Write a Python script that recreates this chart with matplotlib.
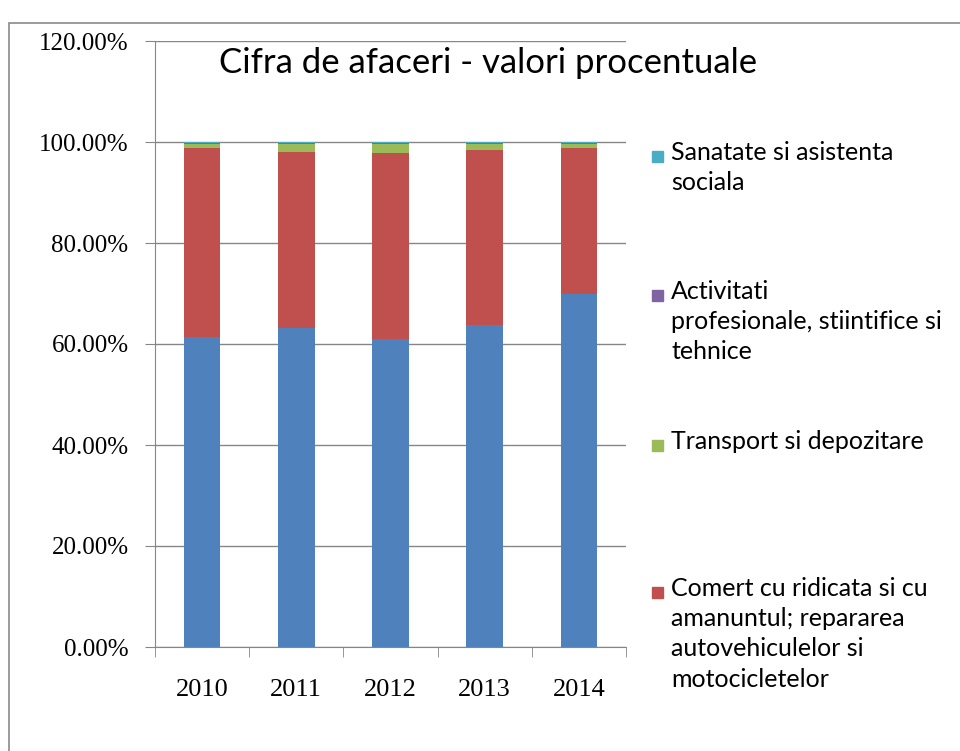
import matplotlib
matplotlib.use("Agg")
import matplotlib.pyplot as plt
import numpy as np
from matplotlib.patches import Rectangle
from matplotlib.ticker import PercentFormatter

years = ["2010", "2011", "2012", "2013", "2014"]

# shares in percent, bottom to top
industrie = [61.4, 63.2, 61.0, 63.7, 70.0]
comert = [37.35, 34.9, 36.8, 34.7, 28.75]
transport = [0.85, 1.5, 1.8, 1.2, 0.85]
activitati = [0.15, 0.15, 0.15, 0.15, 0.15]
sanatate = [0.25, 0.25, 0.25, 0.25, 0.25]

series = [
    (industrie, "#4F81BD"),
    (comert, "#C0504D"),
    (transport, "#9BBB59"),
    (activitati, "#8064A2"),
    (sanatate, "#4BACC6"),
]

legend_items = [
    ("Sanatate si asistenta\nsociala", "#4BACC6"),
    ("Activitati\nprofesionale, stiintifice si\ntehnice", "#8064A2"),
    ("Transport si depozitare", "#9BBB59"),
    ("Comert cu ridicata si cu\namanuntul; repararea\nautovehiculelor si\nmotocicletelor", "#C0504D"),
]

W, H = 960, 751
fig = plt.figure(figsize=(W / 100, H / 100), dpi=100)
fig.patch.set_facecolor("white")

# outer chart border, runs off the right and bottom edges
fig.patches.append(Rectangle((9 / W, -0.1), 1.2, (H - 23) / H + 0.1,
                             transform=fig.transFigure, fill=False,
                             edgecolor="#8a8a8a", lw=1.2))

ax = fig.add_axes([155 / W, (H - 647) / H, (626 - 155) / W, (647 - 41) / H])

x = np.arange(len(years))
bottom = np.zeros(len(years))
for vals, col in series:
    v = np.array(vals) / 100
    ax.bar(x, v, 0.39, bottom=bottom, color=col, zorder=3)
    bottom += v

ax.set_xlim(-0.5, len(years) - 0.5)
ax.set_ylim(0, 1.2)
ax.set_yticks(np.arange(0, 1.21, 0.2))
ax.yaxis.set_major_formatter(PercentFormatter(1.0, decimals=2))
ax.grid(axis="y", color="#868686", lw=1, zorder=0)

for s in ["top", "right"]:
    ax.spines[s].set_visible(False)
ax.spines["left"].set_color("#868686")
ax.spines["bottom"].set_color("#868686")

ax.set_xticks(x)
ax.set_xticklabels(years, fontfamily="Liberation Serif", fontsize=19)
ax.tick_params(axis="x", length=0, pad=23)
ax.set_xticks(np.arange(-0.5, len(years)), minor=True)
ax.tick_params(axis="x", which="minor", length=7, direction="out", color="#868686")
ax.tick_params(axis="y", length=7, color="#868686", pad=12)
for lab in ax.get_yticklabels():
    lab.set_fontfamily("Liberation Serif")
    lab.set_fontsize(18)

fig.text(488 / W, 1 - 63 / H, "Cifra de afaceri - valori procentuale",
         fontfamily="Lato", fontsize=25, ha="center", va="center")

# legend, entries spread over the plot height like in Excel
ys = [156, 295, 445, 592]
for (label, col), yy in zip(legend_items, ys):
    fig.patches.append(Rectangle((652 / W, 1 - (yy + 6) / H), 11 / W, 11 / H,
                                 transform=fig.transFigure, color=col))
    fig.text(671 / W, 1 - (yy - 15) / H, label, fontfamily="Lato", fontsize=18,
             ha="left", va="top", linespacing=1.38)

fig.savefig("out.png", dpi=100)
